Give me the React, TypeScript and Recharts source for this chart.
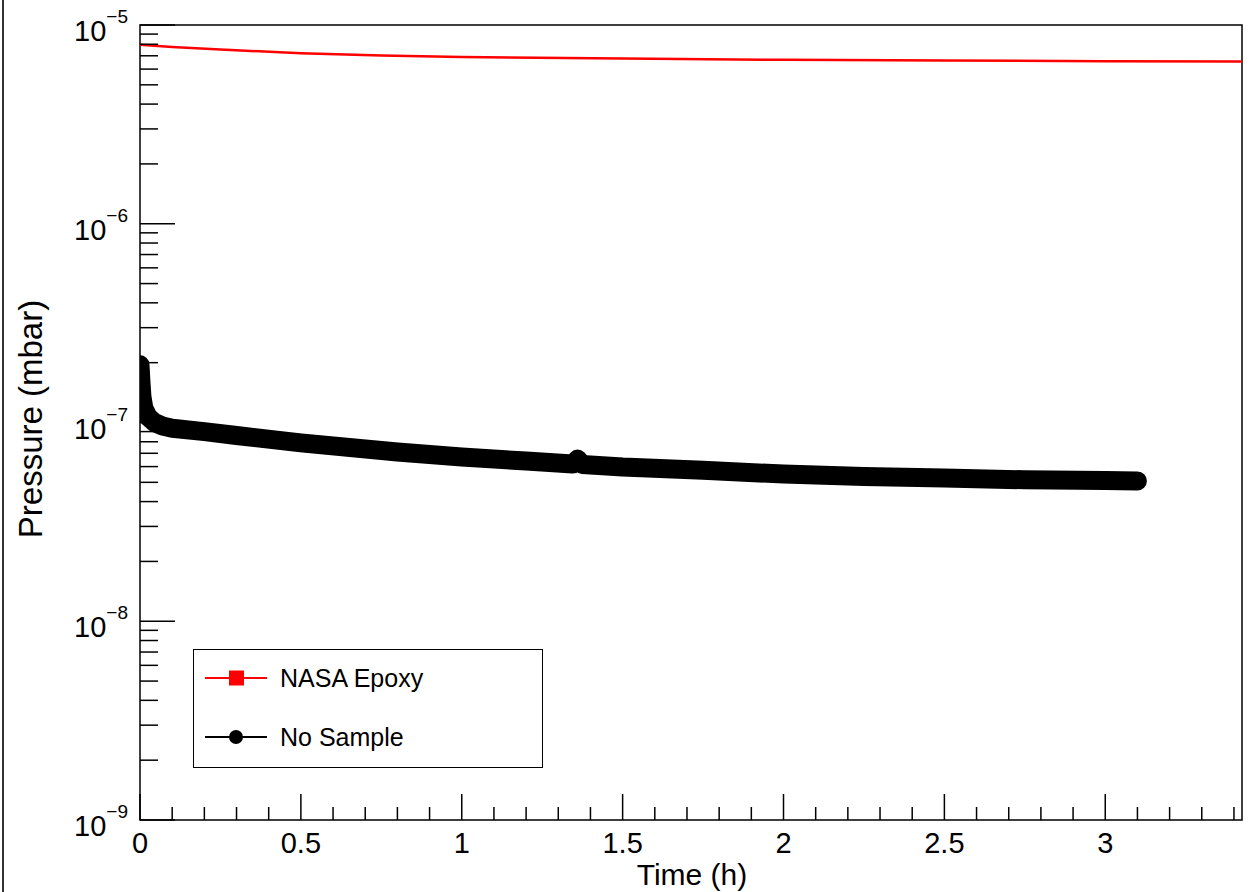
import React from 'react';
import { LineChart, Line, XAxis, YAxis, ReferenceArea, Legend } from 'recharts';

const W = 1253;
const H = 892;
const FONT = '"Liberation Sans", Arial, Helvetica, sans-serif';

// NASA Epoxy series (time in h, pressure in mbar)
const epoxyTime = [0, 0.1, 0.25, 0.5, 0.75, 1.0, 1.5, 2.0, 2.5, 3.0, 3.425];
const epoxyPressure = [7.95e-6, 7.75e-6, 7.53e-6, 7.2e-6, 7.02e-6, 6.9e-6, 6.78e-6, 6.68e-6, 6.62e-6, 6.58e-6, 6.55e-6];

// No Sample series
const noSampleTime = [0, 0.003, 0.006, 0.012, 0.025, 0.045, 0.07, 0.1, 0.2, 0.3, 0.5, 0.8, 1.0, 1.2, 1.345, 1.36, 1.375, 1.5, 1.75, 2.0, 2.25, 2.5, 2.75, 3.0, 3.1];
const noSamplePressure = [1.95e-7, 1.6e-7, 1.35e-7, 1.18e-7, 1.07e-7, 1.0e-7, 9.6e-8, 9.35e-8, 9.0e-8, 8.6e-8, 7.9e-8, 7.1e-8, 6.7e-8, 6.4e-8, 6.18e-8, 6.55e-8, 6.15e-8, 5.97e-8, 5.75e-8, 5.5e-8, 5.35e-8, 5.25e-8, 5.15e-8, 5.1e-8, 5.08e-8];

// Axes
const xDomain = [0, 3.425];
const xMajorTicks = [0, 0.5, 1, 1.5, 2, 2.5, 3];
const xMinorTicks = [0.1, 0.2, 0.3, 0.4, 0.6, 0.7, 0.8, 0.9, 1.1, 1.2, 1.3, 1.4, 1.6, 1.7, 1.8, 1.9, 2.1, 2.2, 2.3, 2.4, 2.6, 2.7, 2.8, 2.9, 3.1, 3.2, 3.3, 3.4];
const xTickLabels = ['0', '0.5', '1', '1.5', '2', '2.5', '3'];
const yDecades = [-9, -8, -7, -6, -5];
const yMinorMultipliers = [2, 3, 4, 5, 6, 7, 8, 9];
const yDomain = [1e-9, 1e-5];

const xLabel = 'Time (h)';
const yLabel = 'Pressure (mbar)';
const seriesNames = ['NASA Epoxy', 'No Sample'];
const seriesColors = ['#ff0000', '#000000'];

const epoxyData = epoxyTime.map((t, i) => ({ t, p: epoxyPressure[i] }));
const noSampleData = noSampleTime.map((t, i) => ({ t, p: noSamplePressure[i] }));

const yMajorTicks = yDecades.map((d) => Number(Math.pow(10, d).toPrecision(3)));
const yMinorTicks: number[] = [];
yDecades.slice(0, -1).forEach((d) => {
  yMinorMultipliers.forEach((m) => yMinorTicks.push(Number((m * Math.pow(10, d)).toPrecision(3))));
});
const yTicks = [...yMajorTicks, ...yMinorTicks].sort((a, b) => a - b);
const xTicks = [...xMajorTicks, ...xMinorTicks].sort((a, b) => a - b);

const XTick = (props: any) => {
  const { x, y, payload } = props;
  const v = payload.value;
  const idx = xMajorTicks.findIndex((m) => Math.abs(m - v) < 1e-9);
  const major = idx >= 0;
  return (
    <g>
      <line x1={x} x2={x} y1={y} y2={y - (major ? 26 : 13)} stroke="#000" strokeWidth={1.5} />
      {major && (
        <text x={x} y={y + 33} textAnchor="middle" fontFamily={FONT} fontSize={29} fill="#000">
          {xTickLabels[idx]}
        </text>
      )}
    </g>
  );
};

const YTick = (props: any) => {
  const { x, y, payload } = props;
  const v = payload.value;
  const e = Math.log10(v);
  const major = Math.abs(e - Math.round(e)) < 1e-6;
  const exp = Math.round(e);
  return (
    <g>
      <line x1={x} x2={x + (major ? 35 : 18)} y1={y} y2={y} stroke="#000" strokeWidth={1.5} />
      {major && (
        <text x={128} y={y + 16} textAnchor="end" fontFamily={FONT} fontSize={29} fill="#000">
          <tspan>10</tspan>
          <tspan dy={-18} fontSize={19}>{'\u2212' + Math.abs(exp)}</tspan>
        </text>
      )}
    </g>
  );
};

const LegendBox = () => {
  const rows = [29, 88];
  return (
    <div
      style={{
        position: 'relative',
        width: 350,
        height: 119,
        boxSizing: 'border-box',
        border: '1.5px solid #000',
        background: '#fff',
        fontFamily: FONT,
      }}
    >
      <svg width={350} height={119} style={{ position: 'absolute', left: -1.5, top: -1.5 }}>
        {seriesNames.map((name, i) => (
          <g key={name}>
            <line x1={12} x2={74} y1={rows[i]} y2={rows[i]} stroke={seriesColors[i]} strokeWidth={2} />
            {i === 0 ? (
              <rect x={36} y={rows[i] - 7.5} width={15} height={15} fill={seriesColors[i]} />
            ) : (
              <circle cx={43} cy={rows[i]} r={7} fill={seriesColors[i]} />
            )}
            <text x={87} y={rows[i] + 9} fontFamily={FONT} fontSize={25} fill="#000">
              {name}
            </text>
          </g>
        ))}
      </svg>
    </div>
  );
};

export default function App() {
  return (
    <div style={{ position: 'absolute', left: 0, top: 0, width: W, height: H, background: '#fff' }}>
      <div style={{ position: 'absolute', left: 2, top: 0, width: 2, height: H, background: '#333' }} />
      <LineChart width={W} height={H} margin={{ top: 25, right: 11, bottom: 0, left: 0 }}>
        <XAxis
          dataKey="t"
          type="number"
          domain={xDomain}
          allowDataOverflow
          ticks={xTicks}
          interval={0}
          tick={<XTick />}
          tickLine={false}
          axisLine={false}
          tickSize={0}
          tickMargin={0}
          height={72}
        />
        <YAxis
          dataKey="p"
          type="number"
          scale="log"
          domain={yDomain}
          allowDataOverflow
          ticks={yTicks}
          interval={0}
          tick={<YTick />}
          tickLine={false}
          axisLine={false}
          tickSize={0}
          tickMargin={0}
          width={140}
        />
        <ReferenceArea
          x1={xDomain[0]}
          x2={xDomain[1]}
          y1={yDomain[0]}
          y2={yDomain[1]}
          fill="none"
          fillOpacity={0}
          stroke="#000"
          strokeWidth={1.5}
          ifOverflow="visible"
        />
        <Line
          data={epoxyData}
          dataKey="p"
          name={seriesNames[0]}
          stroke={seriesColors[0]}
          strokeWidth={2.5}
          dot={false}
          isAnimationActive={false}
          type="linear"
        />
        <Line
          data={noSampleData}
          dataKey="p"
          name={seriesNames[1]}
          stroke={seriesColors[1]}
          strokeWidth={19}
          strokeLinecap="round"
          strokeLinejoin="round"
          dot={false}
          isAnimationActive={false}
          type="linear"
        />
        <Legend
          layout="horizontal"
          verticalAlign="middle"
          align="center"
          wrapperStyle={{ left: 193, top: 649, width: 350, height: 119, right: 'auto', bottom: 'auto' }}
          content={() => <LegendBox />}
        />
      </LineChart>
      <svg
        width={W}
        height={H}
        style={{ position: 'absolute', left: 0, top: 0, pointerEvents: 'none' }}
      >
        <text x={692} y={885} textAnchor="middle" fontFamily={FONT} fontSize={30} fill="#000">
          {xLabel}
        </text>
        <text
          x={42}
          y={419}
          textAnchor="middle"
          fontFamily={FONT}
          fontSize={33}
          fill="#000"
          transform="rotate(-90 42 419)"
        >
          {yLabel}
        </text>
      </svg>
    </div>
  );
}
